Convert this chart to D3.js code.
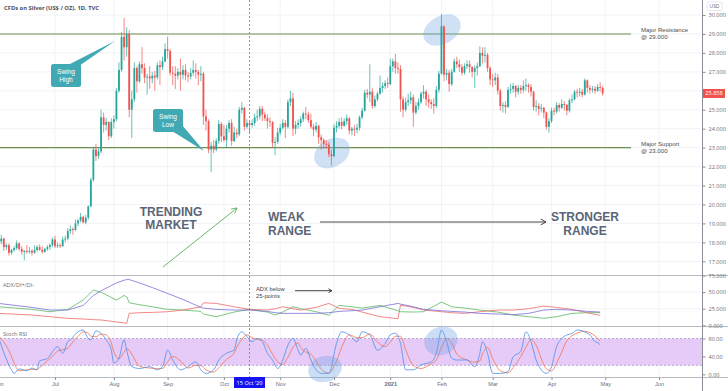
<!DOCTYPE html>
<html><head><meta charset="utf-8">
<script src="https://cdn.jsdelivr.net/npm/d3@7"></script>
<style>
html,body{margin:0;padding:0;background:#fff;}
svg{display:block;font-family:"Open Sans","Noto Sans",sans-serif;}
</style></head><body>
<svg id="c" width="728" height="391"></svg>
<script>
// ---------- DATA (daily candles, CFDs on Silver, weekday index from 1 Jun 2020) ----------
const opens = [
 17.80,18.05,18.20,17.75,17.85,17.45,17.60,17.70,17.95,17.65,
 17.50,17.55,17.50,17.55,17.45,17.60,17.75,17.60,17.50,17.65,
 17.75,17.85,18.15,17.80,17.85,17.80,18.15,18.20,18.60,18.70,
 18.65,19.00,19.15,19.35,19.05,19.30,19.90,21.30,22.90,22.55,
 22.80,24.60,24.20,24.35,23.60,24.35,24.50,26.00,27.10,28.85,
 28.30,29.00,25.00,25.55,27.20,26.50,27.40,27.20,26.70,26.75,
 26.65,26.80,26.70,27.35,27.25,27.55,28.20,28.10,26.95,26.90,
 26.80,27.00,26.85,27.10,26.80,26.75,26.95,27.10,27.00,26.85,
 26.90,24.65,24.40,22.90,23.10,22.90,23.35,24.25,23.60,23.40,
 24.00,24.30,23.35,23.80,23.70,25.00,25.10,24.10,24.30,24.20,
 24.30,24.60,24.65,25.05,24.75,24.55,24.40,24.35,23.25,23.30,
 23.80,24.05,24.30,24.10,25.40,25.60,24.00,24.20,24.30,24.50,
 24.80,24.75,24.45,24.10,23.95,24.15,23.55,23.40,23.20,23.15,
 22.65,22.55,24.05,24.15,24.35,24.15,24.40,24.55,23.90,24.00,
 23.95,24.05,24.60,24.95,25.90,25.80,25.95,25.20,25.55,25.85,
 26.15,26.25,26.40,26.35,27.30,27.55,27.20,27.15,25.55,25.00,
 25.40,25.50,25.65,24.85,25.20,25.40,25.85,25.95,25.55,25.40,
 25.30,25.20,26.05,26.90,29.40,26.85,26.95,26.35,27.00,27.55,
 27.40,27.25,26.95,27.30,27.40,27.25,27.00,27.20,27.30,28.00,
 27.85,27.90,27.20,26.60,26.55,26.70,26.00,25.20,25.25,25.15,
 26.05,26.10,26.25,25.95,26.15,26.05,26.25,26.30,26.20,25.95,
 25.15,25.20,25.05,25.10,24.85,24.10,24.40,24.95,24.90,25.25,
 25.10,25.30,25.25,24.95,25.50,25.55,25.95,25.90,25.95,25.80,
 26.55,26.15,26.05,26.10,26.00,26.20,26.15];
const highs = [
 18.20,18.40,18.25,17.95,17.95,17.65,17.80,18.10,18.00,17.80,
 17.60,17.85,17.75,17.65,17.85,17.85,17.90,17.80,17.70,17.85,
 17.95,18.25,18.35,18.00,17.95,18.30,18.35,18.75,18.90,18.80,
 19.20,19.25,19.55,19.40,19.45,19.95,21.40,23.05,23.20,22.95,
 25.00,24.85,24.55,24.40,24.55,24.70,26.15,27.50,29.10,29.85,
 29.35,29.20,26.00,27.50,27.30,27.55,28.30,27.45,26.90,27.30,
 27.00,27.05,27.50,27.60,27.80,28.50,28.85,28.20,27.30,27.30,
 27.20,27.70,27.35,27.40,27.00,27.20,27.60,27.45,27.10,27.30,
 27.00,25.00,24.50,23.30,23.40,23.50,24.45,24.35,24.20,24.20,
 24.45,24.50,24.10,24.00,25.15,25.40,25.15,24.50,24.40,24.50,
 24.80,25.00,25.20,25.20,24.90,24.75,24.60,24.40,23.55,24.05,
 24.25,24.50,24.45,25.55,26.00,25.90,24.40,24.50,24.65,24.90,
 25.15,24.90,24.80,24.25,24.35,24.20,23.70,23.50,23.40,23.30,
 22.90,24.25,24.40,24.55,24.60,24.55,24.75,24.60,24.10,24.20,
 24.25,24.70,25.10,26.05,26.10,27.40,26.15,25.75,25.95,26.80,
 26.45,26.55,26.70,27.70,27.70,27.95,27.50,27.35,25.70,25.65,
 25.85,25.95,25.80,25.40,25.60,25.95,26.30,26.05,25.80,25.55,
 25.60,26.25,27.05,30.05,29.45,27.15,27.10,27.15,27.70,27.80,
 27.65,27.40,27.45,27.60,27.60,27.30,27.35,27.50,28.35,28.30,
 28.30,28.00,27.30,26.90,26.95,26.90,26.10,25.40,25.45,26.20,
 26.35,26.40,26.30,26.30,26.30,26.55,26.65,26.40,26.35,26.00,
 25.50,25.35,25.30,25.15,24.90,24.55,25.10,25.10,25.40,25.35,
 25.55,25.45,25.30,25.60,25.80,26.05,26.10,26.15,26.10,26.65,
 26.60,26.30,26.25,26.25,26.35,26.45,26.25];
const lows = [
 17.70,17.90,17.55,17.60,17.30,17.35,17.50,17.60,17.55,17.35,
 17.05,17.40,17.40,17.30,17.40,17.50,17.55,17.40,17.45,17.55,
 17.60,17.75,17.70,17.70,17.70,17.75,18.00,18.10,18.45,18.40,
 18.60,18.85,19.05,19.00,18.95,19.20,19.85,21.20,22.30,22.40,
 22.70,23.80,23.90,23.40,23.50,24.00,24.40,25.90,27.00,27.60,
 27.80,24.60,23.50,25.40,25.90,26.40,26.90,26.40,25.80,26.10,
 26.40,26.00,26.60,26.30,27.10,27.50,27.70,26.80,26.30,26.10,
 26.60,26.00,26.60,26.55,26.45,26.60,26.80,26.65,26.30,26.50,
 24.20,23.90,22.70,21.70,22.70,22.80,23.20,23.30,23.30,23.00,
 23.80,23.10,23.30,23.50,23.60,24.80,23.90,24.00,23.80,24.05,
 24.15,24.40,24.50,24.40,24.40,24.00,24.10,23.00,22.60,23.20,
 23.65,23.95,23.50,24.00,25.20,23.60,23.70,24.00,24.10,24.35,
 24.50,24.30,24.00,23.60,23.80,23.20,22.90,22.95,22.95,22.50,
 22.05,22.50,23.80,24.00,23.95,24.10,24.20,23.70,23.65,23.60,
 23.75,23.90,24.50,24.90,25.60,25.40,25.05,25.10,25.45,25.80,
 25.90,26.10,26.15,26.30,27.00,26.90,26.90,24.90,24.60,24.90,
 25.20,25.30,24.10,24.75,25.00,25.30,25.60,25.20,25.10,25.05,
 24.80,25.10,25.90,26.85,26.50,26.55,25.95,26.25,26.95,27.20,
 27.00,26.80,26.85,27.15,26.95,26.70,26.15,26.80,27.25,27.45,
 27.50,27.00,26.30,26.20,26.30,25.80,24.95,24.85,24.80,25.10,
 25.85,25.90,25.65,25.80,25.85,25.90,26.00,25.90,25.70,24.95,
 24.90,24.70,24.85,24.55,23.95,23.80,24.30,24.70,24.80,24.90,
 25.05,24.95,24.70,24.85,25.35,25.50,25.65,25.70,25.65,25.75,
 25.90,25.85,25.90,25.85,25.95,25.95,25.75];
const closes = [
 18.05,18.20,17.75,17.85,17.45,17.60,17.70,17.95,17.65,17.50,
 17.55,17.50,17.55,17.45,17.60,17.75,17.60,17.50,17.65,17.75,
 17.85,18.15,17.80,17.85,17.80,18.15,18.20,18.60,18.70,18.65,
 19.00,19.15,19.35,19.05,19.30,19.90,21.30,22.90,22.55,22.80,
 24.60,24.20,24.35,23.60,24.35,24.50,26.00,27.10,28.85,28.30,
 29.00,25.00,25.55,27.20,26.50,27.40,27.20,26.70,26.75,26.65,
 26.80,26.70,27.35,27.25,27.55,28.20,28.10,26.95,26.90,26.80,
 27.00,26.85,27.10,26.80,26.75,26.95,27.10,27.00,26.85,26.90,
 24.65,24.40,22.90,23.10,22.90,23.35,24.25,23.60,23.40,24.00,
 24.30,23.35,23.80,23.70,25.00,25.10,24.10,24.30,24.20,24.30,
 24.60,24.65,25.05,24.75,24.55,24.40,24.35,23.25,23.30,23.80,
 24.05,24.30,24.10,25.40,25.60,24.00,24.20,24.30,24.50,24.80,
 24.75,24.45,24.10,23.95,24.15,23.55,23.40,23.20,23.15,22.65,
 22.55,24.05,24.15,24.35,24.15,24.40,24.55,23.90,24.00,23.95,
 24.05,24.60,24.95,25.90,25.80,25.95,25.20,25.55,25.85,26.15,
 26.25,26.40,26.35,27.30,27.55,27.20,27.15,25.55,25.00,25.40,
 25.50,25.65,24.85,25.20,25.40,25.85,25.95,25.55,25.40,25.30,
 25.20,26.05,26.90,29.40,26.85,26.95,26.35,27.00,27.55,27.40,
 27.25,26.95,27.30,27.40,27.25,27.00,27.20,27.30,28.00,27.85,
 27.90,27.20,26.60,26.55,26.70,26.00,25.20,25.25,25.15,26.05,
 26.10,26.25,25.95,26.15,26.05,26.25,26.30,26.20,25.95,25.15,
 25.20,25.05,25.10,24.85,24.10,24.40,24.95,24.90,25.25,25.10,
 25.30,25.25,24.95,25.50,25.55,25.95,25.90,25.95,25.80,26.55,
 26.15,26.05,26.10,26.00,26.20,26.15,25.86];

// x-axis labels (month starts, by weekday index)
const monthLabels = ["Jun","Jul","Aug","Sep","Oct","Nov","Dec","2021","Feb","Mar","Apr","May","Jun"];
const monthIdx    = [0,22,45,66,88,110,131,153,173,193,216,237,258];
const priceTicks = [17,18,19,20,21,22,23,24,25,26,27,28,29,30];
const adxTicks = [0,25,50,75];
const stochTicks = [0,40,80];
const lastPrice = 25.858;
const resistance = 29, support = 23;
const markerIdx = 98; // 15 Oct '20

// DMI (ADX / DI+ / DI-)
const dmiIdx = [0,13,20,27,33,37,40,43,46,49,50,51,55,60,66,72,79,80,85,92,98,105,108,111,115,118,124,129,133,138,142,149,156,157,162,166,173,177,182,188,195,201,207,213,218,224,230,235];
const adx = [33,27,23,23,30,45,52,58,64,68,69,69,64,57,48,39,27,26,24,23,23,21,19,18,18,18,18,19,21,22,23,28,33,32,28,24,22,21,20,18,17,16,18,23,24,23,21,20];
const diPlus = [28,24,20.5,24,38,53,50,44,38,45,43,34,31,28,24,23,21,17,13,20,24,20,15.5,20,28,25,20.5,15,30,28,26,30,22,20.5,20,20.5,35,28,26,23,20,15.5,13,10.5,13,18,19,19];
const diMinus = [18,15.5,13,10.5,9.5,8.5,8,6.5,5,3.5,3,18,19,19.5,20.5,23,28,34,33,28,24,23,25,28,25,23,27,33,25.6,24,20,13,10,30.5,27,23,20.5,19,18,20.5,23,23,25,29,27,24,19,15];

// Stoch RSI (K, D)
const stochIdx = [0,5,6,8,11,13,15,16,19,21,23,25,27,28,31,33,35,36,38,40,42,44,45,47,49,50,52,55,59,62,64,66,68,71,74,77,79,81,84,86,89,92,93,95,97,99,101,103,105,107,109,111,113,115,117,118,120,122,124,126,129,132,134,137,140,142,145,148,151,153,155,157,159,162,165,169,171,173,175,177,179,183,186,188,189,191,193,196,199,201,204,206,208,210,212,214,216,218,220,222,224,226,229,231,233,234,235];
const stochK = [82,10,2,12,8,14,10,30,35,50,62,47,73,77,95,99,80,77,97,91,77,54,25,36,77,54,17,13,17,10,17,54,32,10,17,28,10,2,10,32,47,54,77,95,84,73,80,73,47,32,13,32,65,80,54,43,58,32,10,2,2,69,95,88,73,95,88,54,69,88,92,69,10,10,21,28,47,99,73,36,32,32,17,47,73,47,2,2,6,39,51,95,73,32,10,2,17,62,80,88,91,99,95,88,73,71,66];
const stochD = [86,40,25,8,10,11,11,15,30,40,52,55,58,65,85,95,92,85,84,90,88,70,50,35,50,58,45,18,14,13,13,28,40,30,14,20,20,10,5,15,33,48,60,78,88,82,78,76,65,45,28,22,38,60,70,60,50,45,30,12,3,30,60,88,82,82,90,72,62,72,85,85,55,20,13,24,32,60,80,70,45,32,27,30,45,60,35,8,3,15,40,60,78,65,35,12,8,25,50,75,86,92,96,93,86,80,74];

// ---------- CHART ----------
const svg = d3.select("#c");
const AX = 702.5;            // right axis line
const TXT = "#6a6d78";
const TIGHT = "'Liberation Sans',Arial,sans-serif";

const x = d3.scaleLinear().domain([22, 258]).range([55, 659]);
const y = d3.scaleLinear().domain([17, 30]).range([261.3, 15]);
const yA = d3.scaleLinear().domain([0, 75]).range([325.3, 275.6]);
const yS = d3.scaleLinear().domain([0, 80]).range([374.3, 338.5]);

const defs = svg.append("defs");
defs.append("clipPath").attr("id","cm").append("rect").attr("x",0).attr("y",0).attr("width",AX).attr("height",275.5);
defs.append("clipPath").attr("id","ca").append("rect").attr("x",0).attr("y",276).attr("width",AX).attr("height",50);
defs.append("clipPath").attr("id","cs").append("rect").attr("x",0).attr("y",327).attr("width",AX).attr("height",50);

// grid
const grid = svg.append("g").attr("stroke","#eef0f4").attr("stroke-width",0.8);
grid.selectAll(".gv").data(monthIdx).join("line")
  .attr("x1",d=>x(d)).attr("x2",d=>x(d)).attr("y1",0).attr("y2",377);
grid.selectAll(".gh").data(priceTicks).join("line")
  .attr("x1",0).attr("x2",AX).attr("y1",d=>y(d)).attr("y2",d=>y(d));
grid.selectAll(".ga").data([25,50]).join("line")
  .attr("x1",0).attr("x2",AX).attr("y1",d=>yA(d)).attr("y2",d=>yA(d));

// stoch band
svg.append("rect").attr("x",0).attr("width",AX).attr("y",yS(80)).attr("height",yS(20)-yS(80))
  .attr("fill","#e6cbf8");
svg.selectAll(".sd").data([20,80]).join("line")
  .attr("x1",0).attr("x2",AX).attr("y1",d=>yS(d)).attr("y2",d=>yS(d))
  .attr("stroke","#9c8fb6").attr("stroke-width",0.7).attr("stroke-dasharray","2,2");

// panel separators
svg.selectAll(".sep").data([275.5,326.5,377.5]).join("line")
  .attr("x1",0).attr("x2",728).attr("y1",d=>d).attr("y2",d=>d)
  .attr("stroke","#b8bac2").attr("stroke-width",1);

// right axis line
svg.append("line").attr("x1",AX).attr("x2",AX).attr("y1",0).attr("y2",391)
  .attr("stroke","#8a8d96").attr("stroke-width",1);

// support/resistance lines
svg.selectAll(".sr").data([resistance, support]).join("line")
  .attr("x1",0).attr("x2",631).attr("y1",d=>y(d)).attr("y2",d=>y(d))
  .attr("stroke","#6b9050").attr("stroke-width",1.1);

// ellipses (main)
const ell = [[332,153,19,14,-30],[442,30,20,14,-30]];
svg.selectAll(".el").data(ell).join("ellipse")
  .attr("cx",d=>d[0]).attr("cy",d=>d[1]).attr("rx",d=>d[2]).attr("ry",d=>d[3])
  .attr("transform",d=>`rotate(${d[4]},${d[0]},${d[1]})`)
  .attr("fill","rgba(120,170,225,0.35)");

// candles
const idx = d3.range(closes.length);
const bw = 1.8;
const cg = svg.append("g").attr("clip-path","url(#cm)");
cg.selectAll(".wk").data(idx).join("line")
  .attr("x1",i=>x(i)).attr("x2",i=>x(i))
  .attr("y1",i=>y(highs[i])).attr("y2",i=>y(lows[i]))
  .attr("stroke",i=>closes[i]>=opens[i]?"#26a69a":"#ef5350").attr("stroke-width",0.7);
cg.selectAll(".bd").data(idx).join("rect")
  .attr("x",i=>x(i)-bw/2).attr("width",bw)
  .attr("y",i=>y(Math.max(opens[i],closes[i])))
  .attr("height",i=>Math.max(0.7, Math.abs(y(opens[i])-y(closes[i]))))
  .attr("fill",i=>closes[i]>=opens[i]?"#26a69a":"#ef5350");

// DMI lines
const ag = svg.append("g").attr("clip-path","url(#ca)").attr("fill","none").attr("stroke-width",0.8);
const dl = arr => d3.line().x((d,i)=>x(dmiIdx[i])).y(d=>yA(d))(arr);
ag.append("path").attr("d",dl(diPlus)).attr("stroke","#5cb860");
ag.append("path").attr("d",dl(diMinus)).attr("stroke","#f06a6a");
ag.append("path").attr("d",dl(adx)).attr("stroke","#7a6fd8");

// Stoch lines
const sg = svg.append("g").attr("clip-path","url(#cs)").attr("fill","none").attr("stroke-width",0.8);
const sl = arr => d3.line().curve(d3.curveMonotoneX).x((d,i)=>x(stochIdx[i])).y(d=>yS(d))(arr);
sg.append("path").attr("d",sl(stochD)).attr("stroke","#f2744f");
sg.append("path").attr("d",sl(stochK)).attr("stroke","#4a8fe8");

// stoch ellipses
const ell2 = [[325,369,17,13,-15],[441,341,17,14,-20]];
svg.selectAll(".el2").data(ell2).join("ellipse")
  .attr("cx",d=>d[0]).attr("cy",d=>d[1]).attr("rx",d=>d[2]).attr("ry",d=>d[3])
  .attr("transform",d=>`rotate(${d[4]},${d[0]},${d[1]})`)
  .attr("fill","rgba(110,160,225,0.35)");

// vertical dashed marker
svg.append("line").attr("x1",x(markerIdx)).attr("x2",x(markerIdx)).attr("y1",0).attr("y2",377)
  .attr("stroke","#6c72b8").attr("stroke-width",0.8).attr("stroke-dasharray","2,2");

// right axes
function rAxis(scale, ticks, fmt, hide){
  const g = svg.append("g").attr("transform",`translate(${AX},0)`)
    .call(d3.axisRight(scale).tickValues(ticks).tickFormat(fmt).tickSize(3).tickPadding(3));
  g.select(".domain").remove();
  g.selectAll(".tick line").attr("stroke","#8a8d96");
  g.selectAll("text").attr("fill",TXT).style("font-size","5.6px").style("font-family","'Open Sans',sans-serif");
  if (hide) g.selectAll(".tick").filter(d=>hide.includes(d)).select("text").remove();
  return g;
}
// the 26.000 label sits under the last-price tag
rAxis(y, priceTicks, d3.format(".3f"), [26]);
rAxis(yA, adxTicks, d3.format(".3f"));
rAxis(yS, stochTicks, d3.format(".2f"));

// bottom axis
const xg = svg.append("g").attr("transform","translate(0,377.5)")
  .call(d3.axisBottom(x).tickValues(monthIdx).tickFormat((d,i)=>monthLabels[i]).tickSize(2.5).tickPadding(2));
xg.select(".domain").remove();
xg.selectAll(".tick line").attr("stroke","#8a8d96");
xg.selectAll("text").attr("fill",TXT).style("font-size","5.6px")
  .style("font-weight",(d,i)=>monthLabels[i]==="2021"?"700":"400");

// date marker label
const mx = x(markerIdx);
svg.append("rect").attr("x",mx-15.5).attr("y",377).attr("width",31).attr("height",11).attr("fill","#1414f0");
svg.append("text").attr("x",mx).attr("y",384.8).attr("text-anchor","middle")
  .attr("fill","#fff").style("font-size","5.6px").text("15 Oct '20");

// USD box & last price
svg.append("rect").attr("x",707).attr("y",2).attr("width",15).attr("height",8.5).attr("rx",1.5)
  .attr("fill","#fff").attr("stroke","#d6d8de").attr("stroke-width",0.6);
svg.append("text").attr("x",714.5).attr("y",8.3).attr("text-anchor","middle").attr("fill",TXT)
  .style("font-size","5px").text("USD");
svg.append("rect").attr("x",703).attr("y",y(lastPrice)-4.5).attr("width",22).attr("height",9).attr("fill","#ef5350");
svg.append("text").attr("x",714).attr("y",y(lastPrice)+2).attr("text-anchor","middle").attr("fill","#fff")
  .style("font-size","5.6px").text(d3.format(".3f")(lastPrice));

// titles
svg.append("text").attr("x",4).attr("y",9.5).attr("fill","#4a4d57").style("font-size","5.8px").style("font-weight","700")
  .text("CFDs on Silver (US$ / OZ), 1D, TVC");
svg.append("text").attr("x",3).attr("y",286.5).attr("fill",TXT).style("font-size","5.6px").text("ADX/DI+/DI-");
svg.append("text").attr("x",3).attr("y",335.5).attr("fill",TXT).style("font-size","5.6px").text("Stoch RSI");

// multi-line text helper (one text element, tspans)
function mtext(parent, xx, yy, lines, lh, anchor){
  const t = parent.append("text").attr("text-anchor", anchor || "start");
  lines.forEach((s,i)=>t.append("tspan").attr("x",xx).attr("y",yy+i*lh).text(s));
  return t;
}

// support / resistance labels
const lab = svg.append("g").attr("fill","#4a4d57").style("font-size","6.1px").style("font-family",TIGHT);
mtext(lab, 641, y(resistance)-1.8, ["Major Resistance","@ 29.000"], 7);
mtext(lab, 641, y(support)-1.8, ["Major Support","@ 23.000"], 7);

// callouts
const teal = "#41a9b3";
svg.append("path").attr("d","M68,65 L79,66 L115,41 Z").attr("fill",teal);
svg.append("rect").attr("x",51).attr("y",64).attr("width",30).attr("height",23).attr("rx",2.5).attr("fill",teal);
svg.append("path").attr("d","M172,131 L182,125 L204,151 Z").attr("fill",teal);
svg.append("rect").attr("x",153).attr("y",109).attr("width",30).attr("height",23).attr("rx",2.5).attr("fill",teal);
const ct = svg.append("g").attr("fill","#fff").style("font-size","6.6px").style("font-family",TIGHT);
mtext(ct, 66, 74, ["Swing","High"], 7.6, "middle");
mtext(ct, 168, 119, ["Swing","Low"], 7.6, "middle");

// big annotations
const big = svg.append("g").attr("fill","#5a6577").style("font-size","12px").style("font-weight","700")
  .style("font-family",TIGHT);
mtext(big, 171, 215.5, ["TRENDING","MARKET"], 13.5, "middle");
mtext(big, 268, 220.5, ["WEAK","RANGE"], 14.5);
mtext(big, 585, 220.5, ["STRONGER","RANGE"], 14.5, "middle");

// arrows
function arrow(x1,y1,x2,y2,col,w,hl){
  const a = Math.atan2(y2-y1,x2-x1);
  const g = svg.append("g").attr("stroke",col).attr("stroke-width",w).attr("fill","none");
  g.append("line").attr("x1",x1).attr("y1",y1).attr("x2",x2).attr("y2",y2);
  const p = s => [x2-hl*Math.cos(a+s), y2-hl*Math.sin(a+s)];
  const l = p(0.5), r = p(-0.5);
  g.append("path").attr("d",`M${l[0]},${l[1]} L${x2},${y2} L${r[0]},${r[1]}`);
}
arrow(163,267,237,208,"#5aae5a",0.9,6);
arrow(320,222,546,222,"#333",0.9,6);
arrow(295,290.7,332,290.7,"#333",0.9,4);

const sm = svg.append("g").attr("fill","#444").style("font-size","5.8px").style("font-family",TIGHT);
mtext(sm, 256, 291, ["ADX below","25-points"], 6.6);
</script></body></html>
